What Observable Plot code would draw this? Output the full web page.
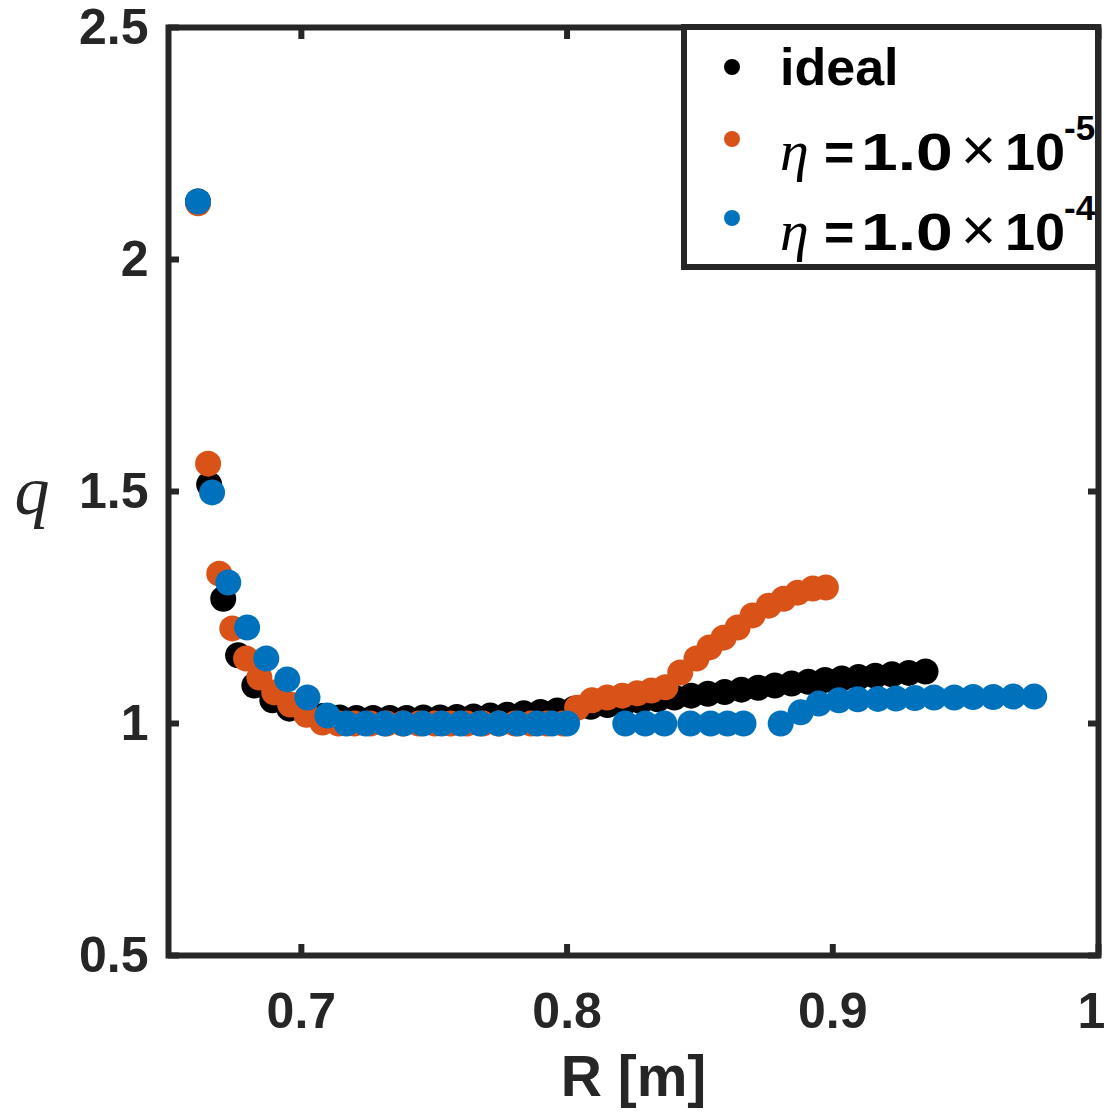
<!DOCTYPE html>
<html>
<head>
<meta charset="utf-8">
<script src="https://cdn.jsdelivr.net/npm/d3@7"></script>
<script src="https://cdn.jsdelivr.net/npm/@observablehq/plot@0.6"></script>
<style>
  html, body { margin: 0; padding: 0; background: #fff; }
  #wrap { position: relative; width: 1106px; height: 1117px; overflow: hidden; }
  #legend { position: absolute; left: 0; top: 0; }
</style>
</head>
<body>
<div id="wrap"></div>
<script>
// ---- data ----
const idealR = [0.6611, 0.6653, 0.6706, 0.6762, 0.6823, 0.6891, 0.6955,
  0.7018, 0.7081, 0.7144, 0.7207, 0.7270, 0.7333, 0.7396, 0.7459, 0.7522, 0.7585,
  0.7648, 0.7711, 0.7774, 0.7837, 0.7900, 0.7963, 0.8026, 0.8089, 0.8152, 0.8215,
  0.8278, 0.8341, 0.8404, 0.8467, 0.8530, 0.8593, 0.8656, 0.8719, 0.8782, 0.8845,
  0.8908, 0.8971, 0.9034, 0.9097, 0.9160, 0.9223, 0.9286, 0.9349];
const idealQ = [2.125, 1.515, 1.269, 1.147, 1.082, 1.050, 1.032,
  1.022, 1.016, 1.013, 1.012, 1.012, 1.012, 1.012, 1.013, 1.013, 1.014,
  1.015, 1.017, 1.019, 1.022, 1.025, 1.028, 1.032, 1.036, 1.040, 1.044,
  1.048, 1.052, 1.056, 1.060, 1.064, 1.068, 1.073, 1.077, 1.082, 1.086,
  1.090, 1.094, 1.097, 1.100, 1.103, 1.106, 1.109, 1.112];

const eta5R = [0.6611, 0.6649, 0.6691, 0.6740, 0.6792, 0.6842, 0.6898, 0.6958, 0.7019, 0.7079,
  0.7140, 0.7200, 0.7260, 0.7321, 0.7381, 0.7442, 0.7502, 0.7562, 0.7623, 0.7683,
  0.7743, 0.7804, 0.7864, 0.7925, 0.7985,
  0.8038, 0.8094, 0.8151, 0.8208, 0.8264, 0.8317, 0.8370, 0.8426, 0.8487, 0.8536,
  0.8589, 0.8642, 0.8698, 0.8759, 0.8815, 0.8868, 0.8925, 0.8974];
const eta5Q = [2.121, 1.560, 1.323, 1.205, 1.140, 1.099, 1.067, 1.041, 1.019, 1.002,
  1.0, 1.0, 1.0, 1.0, 1.0, 1.0, 1.0, 1.0, 1.0, 1.0,
  1.0, 1.0, 1.0, 1.0, 1.0,
  1.034, 1.050, 1.056, 1.060, 1.065, 1.071, 1.078, 1.110, 1.140, 1.164,
  1.185, 1.207, 1.233, 1.254, 1.269, 1.282, 1.291, 1.293];

const eta4R = [0.6611, 0.6664, 0.6725, 0.6796, 0.6868, 0.6947, 0.7023, 0.7098,
  0.7170, 0.7242, 0.7313, 0.7385, 0.7457, 0.7528, 0.7600, 0.7672, 0.7743, 0.7815,
  0.7887, 0.7943, 0.8000,
  0.8219, 0.8294, 0.8366, 0.8464, 0.8540, 0.8604, 0.8664,
  0.8804,
  0.8879, 0.8947, 0.9023, 0.9094, 0.9170, 0.9238, 0.9309, 0.9381, 0.9457, 0.9528,
  0.9604, 0.9679, 0.9758];
const eta4Q = [2.125, 1.498, 1.304, 1.207, 1.140, 1.095, 1.056, 1.017,
  1.0, 1.0, 1.0, 1.0, 1.0, 1.0, 1.0, 1.0, 1.0, 1.0,
  1.0, 1.0, 1.0,
  1.0, 1.0, 1.0, 1.0, 1.0, 1.0, 1.0,
  1.0,
  1.024, 1.043, 1.050, 1.052, 1.053, 1.054, 1.055, 1.056, 1.056, 1.057,
  1.057, 1.058, 1.058];

const xTicks = [0.7, 0.8, 0.9, 1.0];
const xTickLabels = ["0.7", "0.8", "0.9", "1"];
const yTicks = [0.5, 1, 1.5, 2, 2.5];
const yTickLabels = ["0.5", "1", "1.5", "2", "2.5"];

const seriesColors = ["#000000", "#D95319", "#0072BD"];

// ---- build ----
const toRows = (R, Q) => R.map((r, i) => ({R: r, q: Q[i]}));
const sets = [toRows(idealR, idealQ), toRows(eta5R, eta5Q), toRows(eta4R, eta4Q)];

const axisColor = "#262626";
const sans = "'Liberation Sans', Arial, sans-serif";
const serif = "'Liberation Serif', 'DejaVu Serif', serif";
const xLab = (d) => xTickLabels[xTicks.indexOf(d)];

const plot = Plot.plot({
  width: 1106,
  height: 1117,
  marginLeft: 168,
  marginRight: 8,
  marginTop: 27,
  marginBottom: 162,
  style: {background: "#fff", fontFamily: sans, color: axisColor},
  x: {domain: [0.65, 1.0]},
  y: {domain: [0.5, 2.5]},
  marks: [
    ...sets.map((d, i) => Plot.dot(d, {x: "R", y: "q", r: 13, fill: seriesColors[i], stroke: null})),
    // inward ticks on all four sides
    Plot.axisX({anchor: "bottom", ticks: xTicks, tickSize: -11, tickFormat: () => "", stroke: axisColor, strokeWidth: 6, label: null}),
    Plot.axisX({anchor: "top", ticks: xTicks, tickSize: -11, tickFormat: () => "", stroke: axisColor, strokeWidth: 6, label: null}),
    Plot.axisY({anchor: "left", ticks: yTicks, tickSize: -11, tickFormat: () => "", stroke: axisColor, strokeWidth: 6, label: null}),
    Plot.axisY({anchor: "right", ticks: yTicks, tickSize: -11, tickFormat: () => "", stroke: axisColor, strokeWidth: 6, label: null}),
    // tick labels
    Plot.axisX({anchor: "bottom", ticks: xTicks.slice(0, 3), tickSize: 0, tickPadding: 37,
      tickFormat: xLab, fontSize: 50, fontWeight: "bold", fill: axisColor, label: null}),
    Plot.axisX({anchor: "bottom", ticks: xTicks.slice(3), tickSize: 0, tickPadding: 37, dx: -7,
      tickFormat: xLab, fontSize: 50, fontWeight: "bold", fill: axisColor, label: null}),
    Plot.axisY({anchor: "left", ticks: yTicks, tickSize: 0, tickPadding: 20,
      tickFormat: (d) => yTickLabels[yTicks.indexOf(d)], fontSize: 50, fontWeight: "bold", fill: axisColor, label: null}),
    Plot.frame({stroke: axisColor, strokeWidth: 6}),
    // axis titles
    Plot.text(["R [m]"], {frameAnchor: "bottom", dy: 140, fontSize: 57, fontWeight: "bold", fill: axisColor, fontFamily: sans}),
    Plot.text(["q"], {frameAnchor: "left", dx: -154, dy: 0, fontSize: 70, fontStyle: "italic", fill: axisColor, fontFamily: serif})
  ]
});

const wrap = document.getElementById("wrap");
wrap.appendChild(plot);

// ---- legend overlay ----
const legendLabels = [
  {main: "ideal"},
  {eta: true, exp: "-5"},
  {eta: true, exp: "-4"}
];
const lg = d3.select(wrap).append("svg")
  .attr("id", "legend").attr("width", 1106).attr("height", 1117);
lg.append("rect").attr("x", 684).attr("y", 27).attr("width", 414).attr("height", 240)
  .attr("fill", "#fff").attr("stroke", axisColor).attr("stroke-width", 6);
const rowY = [67, 139, 218];
const baseY = [85, 170, 250];
const piece = (x, y, txt, opts = {}, sx = 1) => {
  const t = lg.append("text").attr("x", x).attr("y", y)
    .attr("font-family", opts.family || sans)
    .attr("font-size", opts.size || 52)
    .attr("font-weight", opts.weight || "bold")
    .attr("font-style", opts.style || "normal")
    .attr("fill", "#000")
    .text(txt);
  if (sx !== 1) t.attr("transform", `translate(${x},0) scale(${sx},1) translate(${-x},0)`);
  return t;
};
legendLabels.forEach((lab, i) => {
  lg.append("circle").attr("cx", 732).attr("cy", rowY[i]).attr("r", 8).attr("fill", seriesColors[i]);
  const y = baseY[i];
  if (!lab.eta) {
    piece(780, y, lab.main);
  } else {
    piece(780, y, "η", {family: serif, style: "italic", weight: "normal", size: 58});
    piece(824, y, "=", {}, 1.0);
    piece(861, y, "1.0", {}, 1.27);
    piece(961, y, "×", {weight: "normal", size: 60});
    piece(1005, y, "10", {}, 1.04);
    piece(1064, y - 30, lab.exp, {size: 35});
  }
});
</script>
</body>
</html>
